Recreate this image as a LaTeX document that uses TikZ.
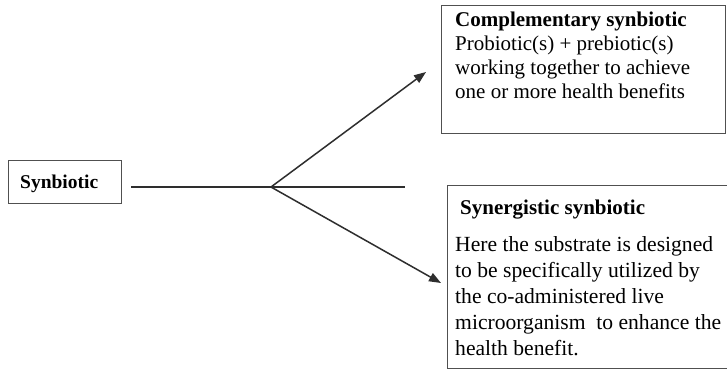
\documentclass[tikz,border=0pt]{standalone}
\usepackage{fontspec}
\setmainfont{Liberation Serif}
\usetikzlibrary{arrows.meta}
\definecolor{linegray}{HTML}{2E2E2E}
\definecolor{boxgray}{HTML}{505050}
\tikzset{
  box/.style={draw=boxgray, line width=1.4pt, inner sep=0pt, anchor=north west},
  txt/.style={inner sep=0pt, anchor=base west, align=left, text=black},
  conn/.style={draw=linegray, line width=1.5pt},
  arr/.style={conn, -{Triangle[length=12pt,width=9pt]}}
}
\begin{document}
\begin{tikzpicture}[x=1pt,y=-1pt]
\useasboundingbox (0,0) rectangle (727,370);
\clip (0,0) rectangle (727,370);
\fill[white] (0,0) rectangle (727,370);
% boxes
\node[box, minimum width=113pt, minimum height=43pt] (syn) at (8,160) {};
\node[txt, font=\fontsize{19.5}{23}\selectfont\bfseries] (syntxt) at (20,188) {Synbiotic};
\node[box, minimum width=284pt, minimum height=128pt] (comp) at (441,5) {};
% base anchor of a multi-line node = baseline of its last line
\node[txt, font=\fontsize{21}{23.7}\selectfont] (comptxt) at (455,98)
  {\textbf{Complementary synbiotic}\\Probiotic(s) + prebiotic(s)\\working together to achieve\\one or more health benefits};
\node[box, minimum width=300pt, minimum height=183pt] (syng) at (447,185) {};
\node[txt, font=\fontsize{21}{26}\selectfont\bfseries] (syngt) at (460,214) {Synergistic synbiotic};
\node[txt, font=\fontsize{21.6}{26}\selectfont] (syngtxt) at (455,355)
  {Here the substrate is designed\\to be specifically utilized by\\the co-administered live\\microorganism\ \ to enhance the\\health benefit.};
% connectors
\coordinate (hstart) at (131,187);
\coordinate (junc) at (271,187);
\coordinate (hend) at (405,187);
\coordinate (tipup) at (426,72);
\coordinate (tipdown) at (441,283);
\draw[conn] (hstart) -- (hend);
\draw[arr] (junc) -- (tipup);
\draw[arr] (junc) -- (tipdown);
\end{tikzpicture}
\end{document}
